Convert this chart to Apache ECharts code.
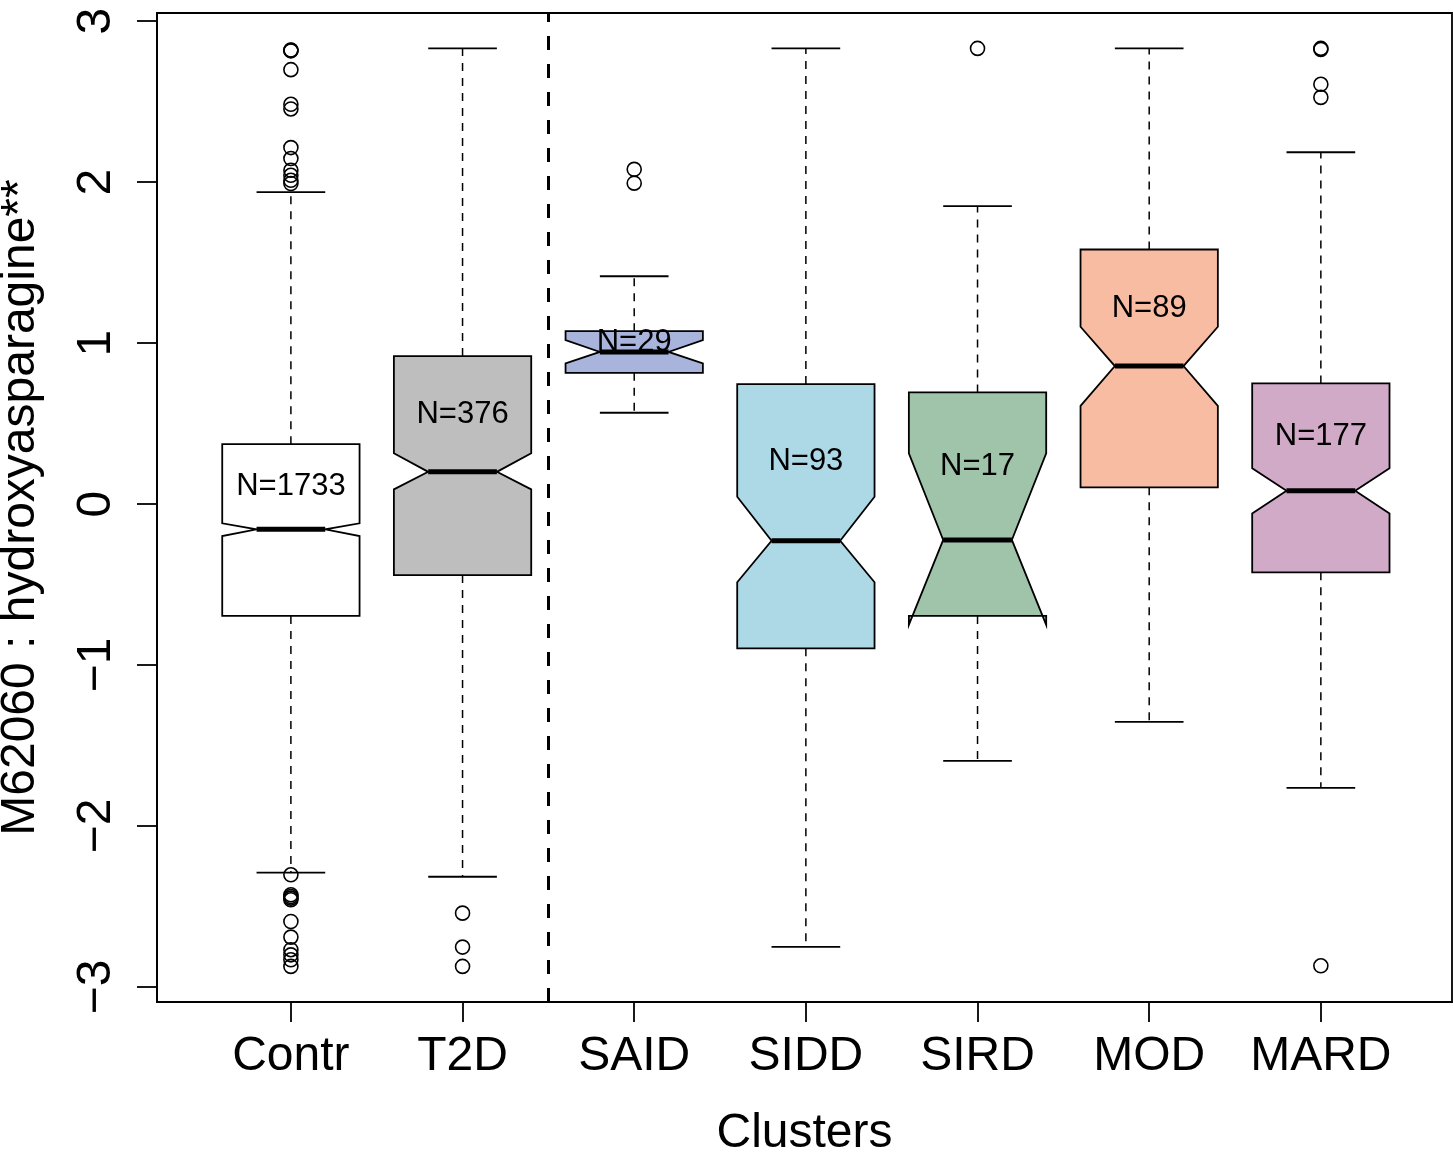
<!DOCTYPE html>
<html>
<head>
<meta charset="utf-8">
<title>M62060 hydroxyasparagine by cluster</title>
<script src="https://cdn.jsdelivr.net/npm/echarts@6/dist/echarts.min.js"></script>
<style>
  html, body { margin: 0; padding: 0; background: #fff; }
  #chart { width: 1453px; height: 1155px; }
</style>
</head>
<body>
<div id="chart"></div>
<script>
// box statistics (one entry per cluster)
var categories = ['Contr', 'T2D', 'SAID', 'SIDD', 'SIRD', 'MOD', 'MARD'];
var whiskerLow = [-2.290, -2.315, 0.567, -2.750, -1.595, -1.353, -1.763];
var lowerHinge = [-0.695, -0.441, 0.815, -0.896, -0.695, 0.104, -0.424];
var medians = [-0.157, 0.200, 0.945, -0.228, -0.223, 0.857, 0.083];
var upperHinge = [0.372, 0.919, 1.074, 0.745, 0.693, 1.581, 0.749];
var whiskerHigh = [1.937, 2.830, 1.415, 2.830, 1.850, 2.830, 2.185];
var notchLow = [-0.199, 0.091, 0.873, -0.486, -0.751, 0.610, -0.058];
var notchHigh = [-0.120, 0.315, 1.018, 0.045, 0.315, 1.101, 0.222];
var counts = [1733, 376, 29, 93, 17, 89, 177];
var countLabelY = [0.107, 0.559, 1.006, 0.263, 0.232, 1.215, 0.418];
var outliers = [
    [2.820, 2.818, 2.815, 2.698, 2.483, 2.454, 2.214, 2.146, 2.073, 2.042, 2.011, 1.991,
     -2.303, -2.427, -2.438, -2.448, -2.458, -2.593, -2.690, -2.768, -2.800, -2.831, -2.872],
    [-2.541, -2.752, -2.872],
    [2.079, 1.993],
    [],
    [2.830],
    [],
    [2.830, 2.824, 2.607, 2.526, -2.868]
];
var yTicks = [-3, -2, -1, 0, 1, 2, 3];
var xTicks = [1, 2, 3, 4, 5, 6, 7];
var boxColors = ['#ffffff', '#bebebe', '#a9b4dc', '#add8e6', '#a0c4aa', '#f8bca2', '#d1aac8'];

(function () {
    var myChart = echarts.init(document.getElementById('chart'));
    var font = 'Liberation Sans, Arial, Helvetica, sans-serif';

    var boxData = categories.map(function (c, i) {
        return [i + 1, whiskerLow[i], lowerHinge[i], medians[i], upperHinge[i],
            whiskerHigh[i], notchLow[i], notchHigh[i], countLabelY[i]];
    });
    var pointData = [];
    outliers.forEach(function (list, i) {
        list.forEach(function (v) { pointData.push([i + 1, v]); });
    });

    // notched box like R's bxp: half width 0.4, notch goes in to 0.2
    function renderBox(params, api) {
        var i = params.dataIndex;
        var x = api.value(0);
        var wLo = api.value(1), q1 = api.value(2), med = api.value(3), q3 = api.value(4);
        var wHi = api.value(5), nLo = api.value(6), nHi = api.value(7), ly = api.value(8);
        function p(dx, v) { return api.coord([x + dx, v]); }
        function seg(a, b, style) {
            return { type: 'line', shape: { x1: a[0], y1: a[1], x2: b[0], y2: b[1] }, style: style };
        }
        var dashed = { stroke: '#000', lineWidth: 1.5, lineDash: [8, 7] };
        var solid = { stroke: '#000', lineWidth: 1.8 };
        var poly = [
            p(-0.4, q1), p(-0.4, nLo), p(-0.2, med), p(-0.4, nHi), p(-0.4, q3),
            p(0.4, q3), p(0.4, nHi), p(0.2, med), p(0.4, nLo), p(0.4, q1)
        ];
        var lp = p(0, ly);
        return {
            type: 'group',
            children: [
                seg(p(0, q3), p(0, wHi), dashed),
                seg(p(0, q1), p(0, wLo), dashed),
                seg(p(-0.2, wHi), p(0.2, wHi), solid),
                seg(p(-0.2, wLo), p(0.2, wLo), solid),
                {
                    type: 'polygon',
                    shape: { points: poly },
                    style: { fill: boxColors[i], stroke: '#000', lineWidth: 1.8 }
                },
                seg(p(-0.2, med), p(0.2, med), { stroke: '#000', lineWidth: 5 }),
                {
                    type: 'text',
                    x: lp[0],
                    y: lp[1],
                    style: {
                        text: 'N=' + counts[i],
                        fontSize: 31,
                        fontFamily: font,
                        fill: '#000',
                        align: 'center',
                        verticalAlign: 'middle'
                    }
                }
            ]
        };
    }

    var option = {
        animation: false,
        backgroundColor: '#fff',
        grid: {
            left: 157,
            right: 1,
            top: 13,
            bottom: 153,
            outerBoundsMode: 'none',
            containLabel: false,
            show: true,
            borderColor: '#000',
            borderWidth: 1.8,
            backgroundColor: 'transparent'
        },
        xAxis: {
            type: 'value',
            min: 0.22,
            max: 7.764,
            name: 'Clusters',
            nameLocation: 'middle',
            nameGap: 108,
            nameTextStyle: { fontSize: 48, fontFamily: font, color: '#000' },
            splitLine: { show: false },
            axisLine: { show: true, onZero: false, lineStyle: { color: '#000', width: 1.8 } },
            axisTick: { show: true, length: 20, customValues: xTicks, lineStyle: { color: '#000', width: 1.8 } },
            axisLabel: {
                customValues: xTicks,
                margin: 31,
                fontSize: 48,
                fontFamily: font,
                color: '#000',
                formatter: function (v) { return categories[Math.round(v) - 1]; }
            }
        },
        yAxis: {
            type: 'value',
            min: -3.093,
            max: 3.05,
            name: 'M62060 : hydroxyasparagine**',
            nameLocation: 'middle',
            nameRotate: 90,
            nameGap: 112,
            nameTextStyle: { fontSize: 48, fontFamily: font, color: '#000' },
            splitLine: { show: false },
            axisLine: { show: true, lineStyle: { color: '#000', width: 1.8 } },
            axisTick: { show: true, length: 20, customValues: yTicks, lineStyle: { color: '#000', width: 1.8 } },
            axisLabel: {
                customValues: yTicks,
                rotate: 90,
                margin: 36,
                fontSize: 48,
                fontFamily: font,
                color: '#000',
                formatter: function (v) { return v < 0 ? '\u2212' + Math.abs(v) : String(v); }
            }
        },
        series: [
            {
                name: 'boxes',
                type: 'custom',
                renderItem: renderBox,
                encode: { x: 0, y: [1, 2, 3, 4, 5] },
                data: boxData,
                z: 2
            },
            {
                name: 'outliers',
                type: 'scatter',
                symbol: 'circle',
                symbolSize: 14,
                itemStyle: { color: 'transparent', borderColor: '#000', borderWidth: 1.6, opacity: 1 },
                data: pointData,
                z: 3,
                // dashed divider between reference groups and clusters
                markLine: {
                    silent: true,
                    symbol: ['none', 'none'],
                    label: { show: false },
                    lineStyle: { color: '#000', width: 3, type: [14, 14] },
                    data: [{ xAxis: 2.5 }]
                }
            }
        ]
    };
    myChart.setOption(option);
    window.addEventListener('resize', function () {
        myChart.resize();
    });
})();
</script>
</body>
</html>
